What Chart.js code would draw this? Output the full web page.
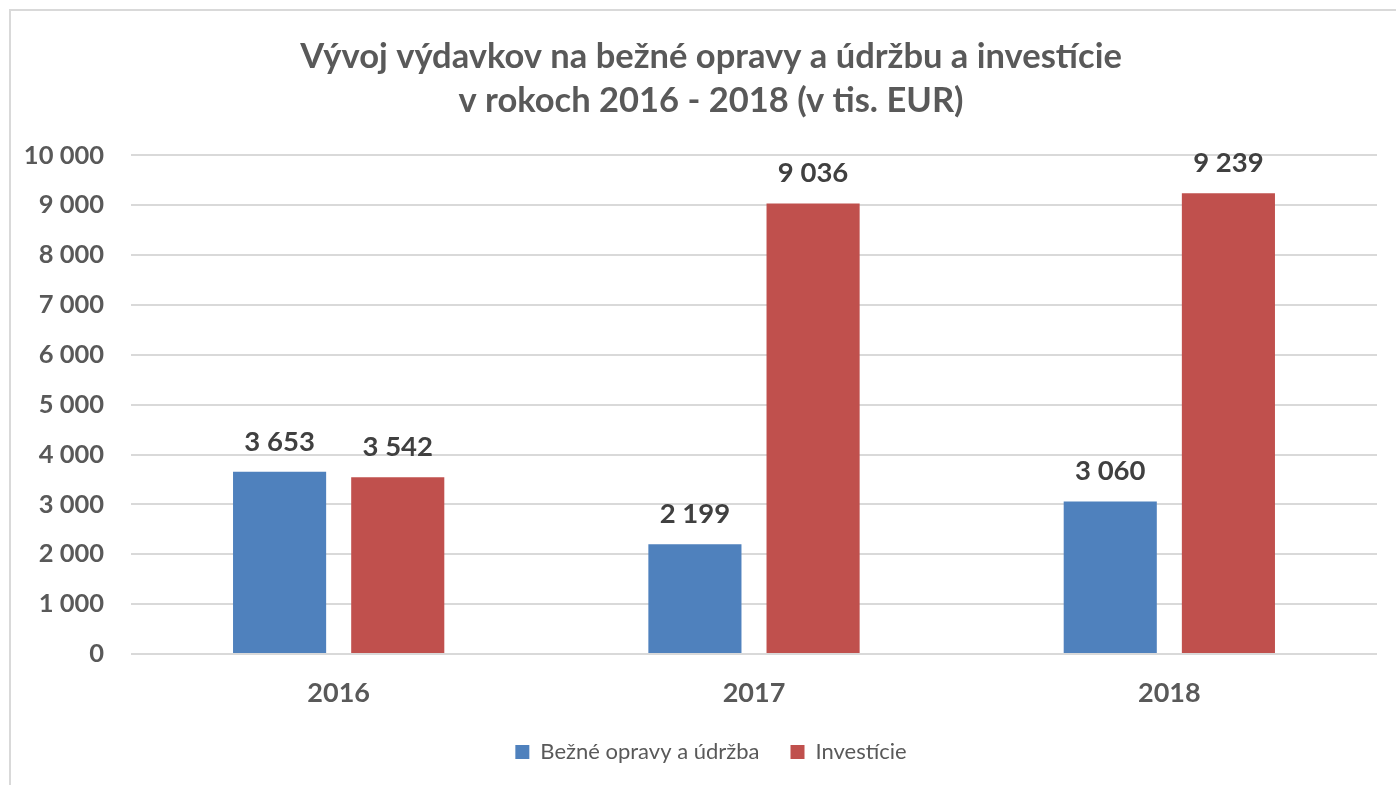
<!DOCTYPE html>
<html>
<head>
<meta charset="utf-8">
<script src="https://cdn.jsdelivr.net/npm/chart.js@4.4.1/dist/chart.umd.min.js"></script>
<style>
  html, body { margin: 0; padding: 0; background: #fff; overflow: hidden; }
  #wrap { position: relative; width: 1396px; height: 785px; }
  #frame { position: absolute; left: 9px; top: 9px; width: 1400px; height: 800px;
           border-left: 2px solid #d9d9d9; border-top: 2px solid #d9d9d9; pointer-events: none; }
</style>
</head>
<body>
<div id="wrap">
  <canvas id="c" width="1396" height="785"></canvas>
  <div id="frame"></div>
</div>
<script>
const categories = ['2016', '2017', '2018'];
const seriesNames = ['Bežné opravy a údržba', 'Investície'];
const repairs = [3653, 2199, 3060];
const investments = [3542, 9036, 9239];
const titleLines = ['Vývoj výdavkov na bežné opravy a údržbu a investície', 'v rokoch 2016 - 2018 (v tis. EUR)'];

const fmt = v => String(v).replace(/\B(?=(\d{3})+(?!\d))/g, ' ');
const FONT = 'Lato, "Open Sans", sans-serif';

const valueLabels = {
  id: 'valueLabels',
  afterDatasetsDraw(chart) {
    const ctx = chart.ctx;
    ctx.save();
    ctx.font = 'bold 27.5px ' + FONT;
    ctx.fillStyle = '#404040';
    ctx.textAlign = 'center';
    ctx.textBaseline = 'middle';
    chart.data.datasets.forEach((ds, i) => {
      chart.getDatasetMeta(i).data.forEach((bar, j) => {
        ctx.fillText(fmt(ds.data[j]), bar.x, bar.y - 30);
      });
    });
    ctx.restore();
  }
};

// let the y-axis labels extend into the left padding (avoid clipping)
const widenY = {
  id: 'widenY',
  afterLayout(chart) { chart.scales.y.left = 0; }
};

new Chart(document.getElementById('c'), {
  type: 'bar',
  data: {
    labels: categories,
    datasets: [
      { label: seriesNames[0], data: repairs, backgroundColor: '#4F81BD',
        categoryPercentage: 0.569, barPercentage: 0.788 },
      { label: seriesNames[1], data: investments, backgroundColor: '#C0504D',
        categoryPercentage: 0.569, barPercentage: 0.788 }
    ]
  },
  options: {
    responsive: false,
    animation: false,
    layout: { padding: { top: 14, right: 19, bottom: 12, left: 45 } },
    scales: {
      x: {
        afterFit: s => { s.height = 56; },
        grid: { display: false },
        border: { display: false },
        ticks: { font: { family: FONT, size: 27, weight: 'bold' }, color: '#595959', padding: 15 }
      },
      y: {
        min: 0, max: 10000,
        afterFit: s => { s.width = 86; },
        grid: { color: '#d9d9d9', lineWidth: 2, drawTicks: false },
        border: { display: false },
        ticks: {
          stepSize: 1000,
          padding: 27,
          font: { family: FONT, size: 25.5, weight: 'bold' },
          color: '#595959',
          callback: v => fmt(v)
        }
      }
    },
    plugins: {
      title: {
        display: true,
        text: titleLines,
        color: '#595959',
        font: { family: FONT, size: 34.5, weight: 'bold', lineHeight: 1.28 },
        padding: { top: 21, bottom: 32 }
      },
      legend: {
        position: 'bottom',
        labels: {
          boxWidth: 14, boxHeight: 14, padding: 31,
          color: '#595959',
          font: { family: FONT, size: 22 }
        }
      },
      tooltip: { enabled: false }
    }
  },
  plugins: [valueLabels, widenY]
});
</script>
</body>
</html>
